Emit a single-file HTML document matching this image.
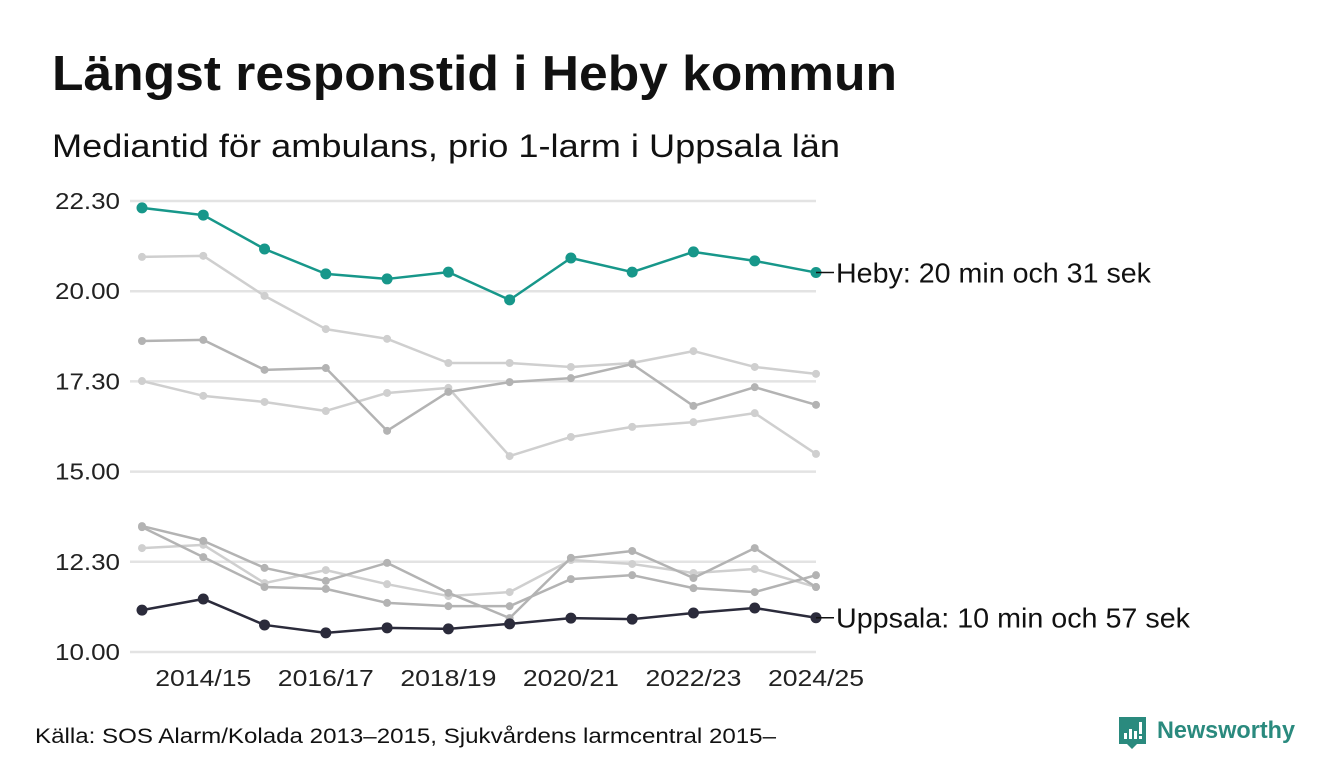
<!DOCTYPE html>
<html><head><meta charset="utf-8">
<style>
body{margin:0;background:#fff;width:1340px;height:780px;overflow:hidden;font-family:"Liberation Sans",sans-serif}
svg{position:absolute;left:0;top:0}
</style></head>
<body>
<svg width="1340" height="780">
<text x="52" y="90" font-size="49" font-weight="bold" fill="#111" textLength="845" lengthAdjust="spacingAndGlyphs">Längst responstid i Heby kommun</text>
<text x="52" y="157" font-size="32" fill="#111" textLength="788" lengthAdjust="spacingAndGlyphs">Mediantid för ambulans, prio 1-larm i Uppsala län</text>
<g id="grid"></g><g id="lines"></g><g id="labels"></g>
<text x="35" y="743" font-size="21" fill="#111" textLength="741" lengthAdjust="spacingAndGlyphs">Källa: SOS Alarm/Kolada 2013–2015, Sjukvårdens larmcentral 2015–</text>
<g>
<path d="M1119 717 h27 v27 h-9 l-5 5 l-5 -5 h-8 z" fill="#2a8a7e"/>
<rect x="1124" y="733" width="3" height="6" fill="#fff"/><rect x="1129" y="729" width="3" height="10" fill="#fff"/><rect x="1134" y="731" width="3" height="8" fill="#fff"/><rect x="1139" y="722" width="3" height="12" fill="#fff"/><rect x="1139" y="736" width="3" height="3" fill="#fff"/>
<text x="1157" y="738" font-size="24" font-weight="bold" fill="#2a8a7e" textLength="138" lengthAdjust="spacingAndGlyphs">Newsworthy</text>
</g>
</svg>
<script>
const categories=["2013/14","2014/15","2015/16","2016/17","2017/18","2018/19","2019/20","2020/21","2021/22","2022/23","2023/24","2024/25"];
const yTicks=[10,12.5,15,17.5,20,22.5];
const yTickLabels=["10.00","12.30","15.00","17.30","20.00","22.30"];
const xTickLabels=["2014/15","2016/17","2018/19","2020/21","2022/23","2024/25"];
const grayA=[20.95,20.98,19.87,18.95,18.68,18.01,18.01,17.90,18.01,18.34,17.90,17.71];
const grayB=[18.62,18.65,17.82,17.87,16.13,17.21,17.48,17.59,17.98,16.82,17.34,16.85];
const grayC=[17.51,17.10,16.93,16.68,17.18,17.32,15.43,15.96,16.24,16.37,16.62,15.49];
const grayD=[13.49,13.08,12.33,11.97,12.47,11.64,10.94,12.61,12.80,12.05,12.88,11.80];
const grayE=[13.46,12.63,11.80,11.75,11.36,11.27,11.27,12.02,12.13,11.77,11.66,12.13];
const grayF=[12.88,12.97,11.91,12.27,11.88,11.55,11.66,12.55,12.44,12.19,12.30,11.80];
const heby=[22.31,22.11,21.17,20.48,20.34,20.53,19.76,20.92,20.53,21.09,20.84,20.517];
const uppsala=[11.16,11.47,10.75,10.53,10.67,10.64,10.78,10.94,10.91,11.08,11.22,10.95];
const NS="http://www.w3.org/2000/svg";
const x0=142,x1=816,yBase=652,pxPerMin=36.08;
const xs=i=>x0+i*(x1-x0)/(categories.length-1);
const ys=v=>yBase-(v-10)*pxPerMin;
function mk(tag,attrs,parent){const e=document.createElementNS(NS,tag);for(const k in attrs)e.setAttribute(k,attrs[k]);parent.appendChild(e);return e;}
const grid=document.getElementById('grid'),lines=document.getElementById('lines'),labels=document.getElementById('labels');
yTicks.forEach((t,i)=>{
  const l=mk('line',{x1:130,x2:816,y1:ys(t),y2:ys(t),stroke:'#e3e3e3','stroke-width':2.5},grid);
  
  
  const tx=mk('text',{x:55,y:ys(t)+8,'font-size':23,fill:'#222',textLength:65,lengthAdjust:'spacingAndGlyphs'},labels);
  tx.textContent=yTickLabels[i];
  
  
});
xTickLabels.forEach(lab=>{
  const i=categories.indexOf(lab);
  const tx=mk('text',{x:xs(i)-48,y:686,'font-size':23,fill:'#222',textLength:96,lengthAdjust:'spacingAndGlyphs'},labels);
  tx.textContent=lab;
  
  
});
function series(vals,color,w,r,name){
  const g=mk('g',{},lines);
  
  
  mk('polyline',{points:vals.map((v,i)=>xs(i)+','+ys(v)).join(' '),fill:'none',stroke:color,'stroke-width':w,'stroke-linejoin':'round'},g);
  vals.forEach((v,i)=>{const c=mk('circle',{cx:xs(i),cy:ys(v),r:r,fill:color},g);
    
    });
}
series(grayA,'#cfcfcf',2.5,4,'series-gray-a');
series(grayC,'#cfcfcf',2.5,4,'series-gray-c');
series(grayF,'#cfcfcf',2.5,4,'series-gray-f');
series(grayB,'#b3b3b3',2.5,4,'series-gray-b');
series(grayD,'#b3b3b3',2.5,4,'series-gray-d');
series(grayE,'#b3b3b3',2.5,4,'series-gray-e');
series(heby,'#17978a',2.5,5.5,'series-heby');
series(uppsala,'#2b2b3b',2.5,5.5,'series-uppsala');
function endLabel(vals,txt,name,len){
  const y=ys(vals[vals.length-1]);
  mk('line',{x1:x1,x2:x1+18,y1:y,y2:y,stroke:'#111','stroke-width':1.5},labels);
  const t=mk('text',{x:x1+20,y:y+10,'font-size':28,fill:'#111',textLength:len,lengthAdjust:'spacingAndGlyphs'},labels);
  t.textContent=txt;
  
  
}
endLabel(heby,'Heby: 20 min och 31 sek','heby-label',315);
endLabel(uppsala,'Uppsala: 10 min och 57 sek','uppsala-label',354);
</script>
</body></html>
